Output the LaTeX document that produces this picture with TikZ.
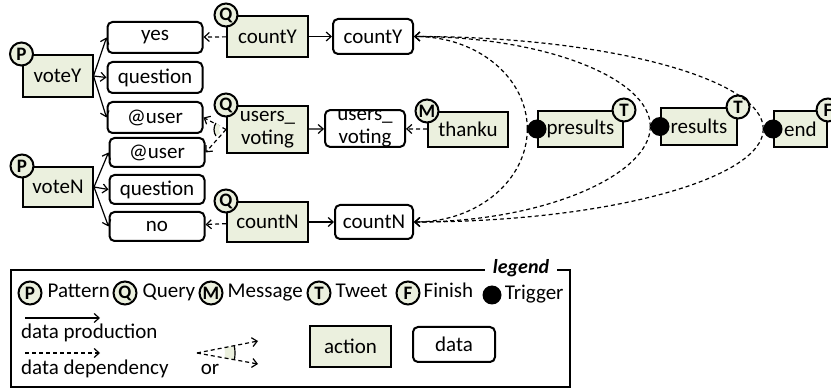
\documentclass[tikz,border=0pt]{standalone}
\usepackage{fontspec}
\setmainfont{Carlito}
\usetikzlibrary{positioning,arrows.meta}
\definecolor{coloraction} {RGB}{235,240,222}
\definecolor{colortext}   {RGB}{0  ,0  ,0  }

\begin{document}
\begin{tikzpicture}[
    x=1pt, y=1pt,
    node distance = 4pt,
    font={\fontsize{21}{23}\selectfont},
    >={Straight Barb[length=5pt,width=9pt]},
    base/.style={text=colortext,draw=colortext,line width=2pt,align=center,inner sep=2pt},
    action/.style={base,fill=coloraction,minimum width=81pt,minimum height=41pt},
    data/.style={base,rounded corners=5pt,fill=white,minimum width=95pt,minimum height=31pt},
    badge/.style={circle,draw=colortext,line width=2pt,fill=coloraction,inner sep=0pt,minimum size=23pt,font={\fontsize{19}{19}\selectfont\bfseries}},
    trigger/.style={circle,fill=colortext,inner sep=0pt,minimum size=19pt},
    txt/.style={text=colortext,inner sep=1pt,text height=14pt,text depth=4pt},
    prod/.style={->,line width=1.2pt},
    dep/.style={->,line width=1.2pt,dash pattern=on 4pt off 3pt},
]
    \useasboundingbox (0,0) rectangle (831,-390);

    % Nodes
    \node[action,minimum width=70pt,minimum height=42pt] (voteY) at (57.5,-76)  {voteY};
    \node[action,minimum width=70pt,minimum height=40pt] (voteN) at (58,-187)   {voteN};
    \node[action]                      (countY)      at (267.5,-36.5)  {countY};
    \node[action,minimum height=47pt]  (usersvoting) at (267.5,-129.5) {users\_\\voting};
    \node[action,minimum height=40pt]  (countN)      at (267.5,-222)   {countN};
    \node[action,minimum width=80pt,minimum height=35pt] (thanku)   at (468,-129.5) {thanku};
    \node[action,minimum width=85pt,minimum height=36pt] (presults) at (580.5,-129) {presults};
    \node[action,minimum width=76pt,minimum height=37pt] (results)  at (699,-126.5) {results};
    \node[action,minimum width=53pt,minimum height=36pt] (finish)   at (800.5,-129) {end};

    \node[data]                      (yes)       at (155,-37.5)  {yes};
    \node[data,below=7pt of yes]       (questionY) {question};
    \node[data,below=7pt of questionY] (userY)     {@user};
    \node[data,minimum height=29pt]  (userN)     at (157,-152.5) {@user};
    \node[data,minimum height=29pt,below=6pt of userN]     (questionN) {question};
    \node[data,minimum height=29pt,below=6pt of questionN] (no)        {no};

    \node[data,minimum width=80pt,minimum height=35pt] (countYdata) at (373,-36.5)  {countY};
    \node[data,minimum width=80pt,inner ysep=0pt]      (usersdata)  at (365,-128.5) {users\_\\voting};
    \node[data,minimum width=78pt,minimum height=34pt] (countNdata) at (374,-222)   {countN};

    % Badges
    \node[badge] (bvoteY)    at (voteY.north west)       {P};
    \node[badge] (bvoteN)    at (voteN.north west)       {P};
    \node[badge] (bcountY)   at (countY.north west)      {Q};
    \node[badge] (busers)    at (usersvoting.north west) {Q};
    \node[badge] (bcountN)   at (countN.north west)      {Q};
    \node[badge] (bthanku)   at (thanku.north west)      {M};
    \node[badge] (bpresults) at (presults.north east)    {T};
    \node[badge] (bresults)  at (results.north east)     {T};
    \node[badge] (bfinish)   at (finish.north east)      {F};

    \node[trigger] (tpresults) at (presults.west) {};
    \node[trigger] (tresults)  at (results.west)  {};
    \node[trigger] (tfinish)   at (finish.west)   {};

    % Arrows
    \draw[prod] (voteY.east) -- (yes.west);
    \draw[prod] (voteY.east) -- (questionY.west);
    \draw[prod] (voteY.east) -- (userY.west);
    \draw[prod] (voteN.east) -- (userN.west);
    \draw[prod] (voteN.east) -- (questionN.west);
    \draw[prod] (voteN.east) -- (no.west);

    \draw[prod] (countY) -- (countYdata);
    \draw[prod] (usersvoting) -- (usersdata);
    \draw[prod] (countN) -- (countNdata);

    \draw[dep] (countY) -- (yes);
    \draw[dep] (countN) -- (no);
    \draw[dep] (thanku) -- (usersdata);
    \draw[dep] (usersvoting.west) -- (userY.east);
    \draw[dep] (usersvoting.west) -- (userN.east);
    \fill[coloraction] ([shift={(147:7)}]usersvoting.west) arc[start angle=147,end angle=213,radius=7]
        -- ([shift={(213:12)}]usersvoting.west) arc[start angle=213,end angle=147,radius=12] -- cycle;
    \draw[line width=1.2pt] ([shift={(147:12)}]usersvoting.west) arc[start angle=147,end angle=213,radius=12];

    \draw[dep] (tpresults.west) to[out=90,in=0,out distance=51pt,in distance=64pt] (countYdata.east);
    \draw[dep] (tpresults.west) to[out=-90,in=0,out distance=51pt,in distance=64pt] (countNdata.east);
    \draw[dep] (tresults.west) to[out=90,in=0,out distance=48pt,in distance=131pt] (countYdata.east);
    \draw[dep] (tresults.west) to[out=-90,in=0,out distance=48pt,in distance=131pt] (countNdata.east);
    \draw[dep] (tfinish.west) to[out=90,in=0,out distance=50pt,in distance=193pt] (countYdata.east);
    \draw[dep] (tfinish.west) to[out=-90,in=0,out distance=50pt,in distance=193pt] (countNdata.east);

    % Legend
    \draw[line width=2pt] (11,-270) rectangle (570,-387);
    \node[fill=white,font={\fontsize{20}{20}\selectfont\bfseries\itshape},inner xsep=8pt,inner ysep=0pt] (legendtitle) at (521,-268) {legend};

    \node[badge] (lP) at (30,-293)  {P};
    \node[txt,right=4pt of lP] (lPtxt) {Pattern};
    \node[badge] (lQ) at (125,-293) {Q};
    \node[txt,right=4pt of lQ] (lQtxt) {Query};
    \node[badge] (lM) at (211,-293) {M};
    \node[txt,right=3pt of lM] (lMtxt) {Message};
    \node[badge] (lT) at (319,-293) {T};
    \node[txt,right=3pt of lT] (lTtxt) {Tweet};
    \node[badge] (lF) at (408,-293) {F};
    \node[txt,right=2pt of lF] (lFtxt) {Finish};
    \node[trigger] (lD) at (492,-295) {};
    \node[txt,right=2pt of lD] (lDtxt) {Trigger};

    \coordinate (prodA) at (25,-318);
    \coordinate (prodB) at (100,-318);
    \draw[prod] (prodA) -- (prodB);
    \node[txt,anchor=west] (prodtxt) at (20,-334) {data production};
    \coordinate (depA) at (25,-353);
    \coordinate (depB) at (100,-353);
    \draw[dep] (depA) -- (depB);
    \node[txt,anchor=west] (deptxt) at (20,-369) {data dependency};

    \coordinate (orO) at (197,-353);
    \coordinate (orA) at (258,-341);
    \coordinate (orB) at (258,-364);
    \fill[coloraction] ([shift={(-10:28)}]orO) arc[start angle=-10,end angle=11,radius=28]
        -- ([shift={(11:38)}]orO) arc[start angle=11,end angle=-10,radius=38] -- cycle;
    \draw[dep] (orO) -- (orA);
    \draw[dep] (orO) -- (orB);
    \draw[line width=1.2pt] ([shift={(-10:38)}]orO) arc[start angle=-10,end angle=11,radius=38];
    \node[txt] (ortxt) at (210,-369) {or};

    \node[action] (laction) at (350.5,-346.5) {action};
    \node[data,minimum width=82pt,minimum height=35pt] (ldata) at (454,-344.5) {data};

\end{tikzpicture}
\end{document}
